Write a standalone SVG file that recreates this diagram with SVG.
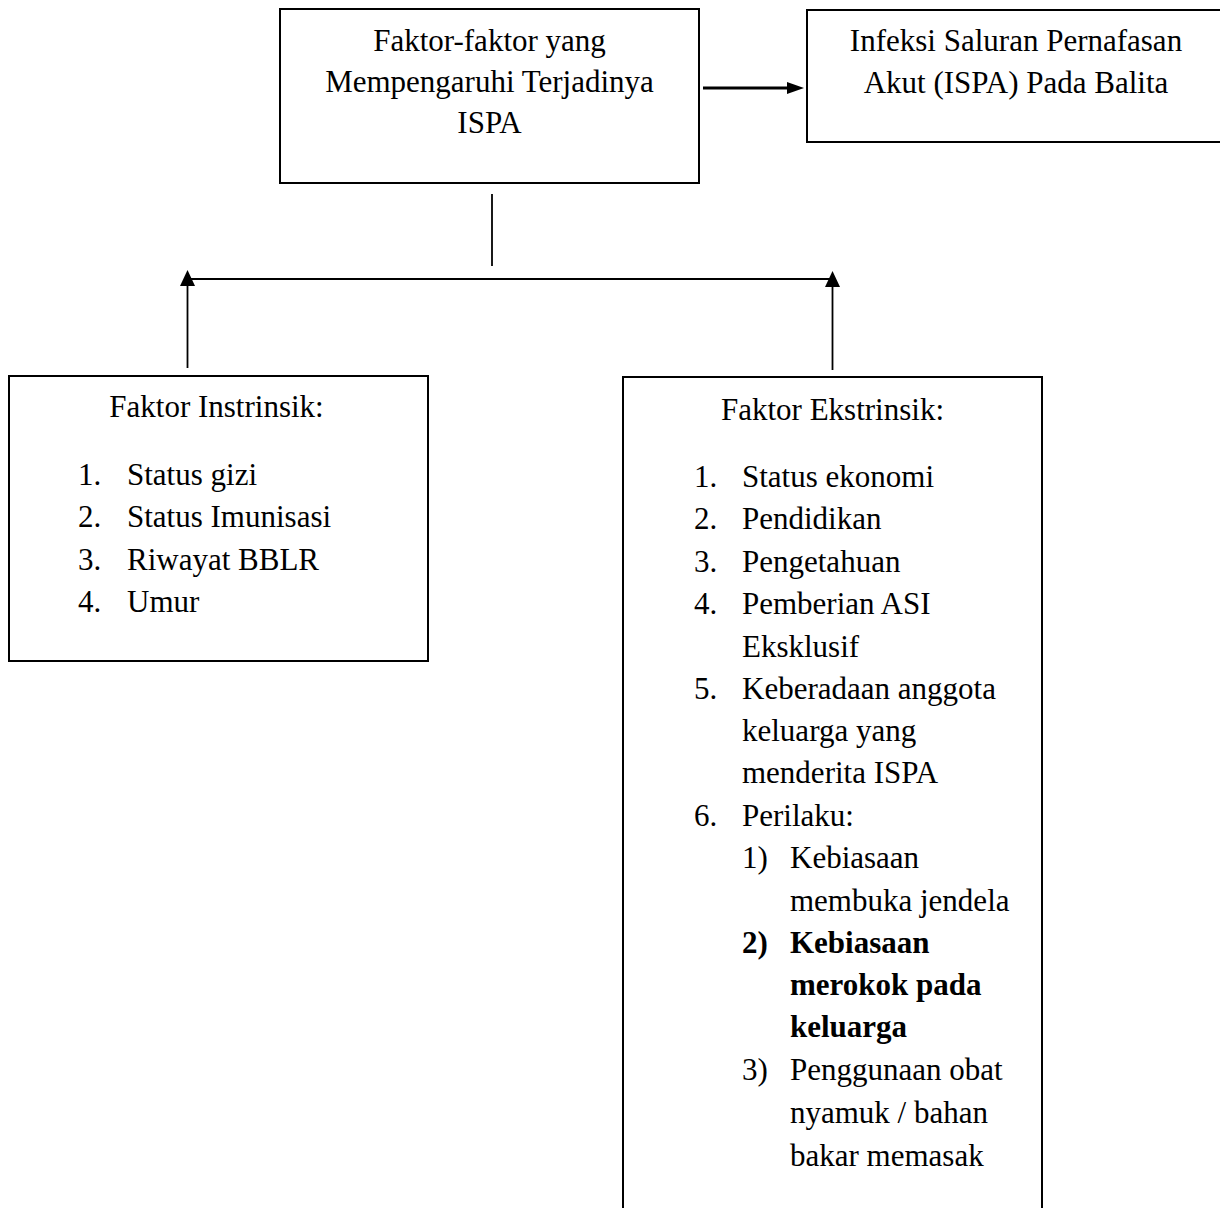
<svg xmlns="http://www.w3.org/2000/svg" width="1220" height="1208" viewBox="0 0 1220 1208">
<style>
.box{fill:#fff;stroke:#000;stroke-width:2}
.t{font-family:"Liberation Serif","Times New Roman",serif;font-size:31px;fill:#000}
.c{text-anchor:middle}
.b{font-weight:bold}
.ln{stroke:#000;stroke-width:1.8;fill:none}
.ah{fill:#000;stroke:none}
</style>
<rect width="1220" height="1208" fill="#fff"/>
<g id="node-faktor">
<rect class="box" x="280" y="9" width="419" height="174"/>
<text class="t c" x="489.5" y="51">Faktor-faktor yang</text>
<text class="t c" x="489.5" y="92">Mempengaruhi Terjadinya</text>
<text class="t c" x="489.5" y="133">ISPA</text>
</g>
<g id="node-ispa">
<rect class="box" x="807" y="10" width="420" height="132"/>
<text class="t c" x="1016" y="51">Infeksi Saluran Pernafasan</text>
<text class="t c" x="1016" y="93">Akut (ISPA) Pada Balita</text>
</g>
<g id="node-intrinsik">
<rect class="box" x="9" y="376" width="419" height="285"/>
<text class="t c" x="216.5" y="417">Faktor Instrinsik:</text>
<text class="t" x="78" y="485">1.</text><text class="t" x="127" y="485">Status gizi</text>
<text class="t" x="78" y="527">2.</text><text class="t" x="127" y="527">Status Imunisasi</text>
<text class="t" x="78" y="570">3.</text><text class="t" x="127" y="570">Riwayat BBLR</text>
<text class="t" x="78" y="612">4.</text><text class="t" x="127" y="612">Umur</text>
</g>
<g id="node-ekstrinsik">
<rect class="box" x="623" y="377" width="419" height="850"/>
<text class="t c" x="832.5" y="420">Faktor Ekstrinsik:</text>
<text class="t" x="694" y="487">1.</text><text class="t" x="742" y="487">Status ekonomi</text>
<text class="t" x="694" y="529">2.</text><text class="t" x="742" y="529">Pendidikan</text>
<text class="t" x="694" y="572">3.</text><text class="t" x="742" y="572">Pengetahuan</text>
<text class="t" x="694" y="614">4.</text><text class="t" x="742" y="614">Pemberian ASI</text>
<text class="t" x="742" y="657">Eksklusif</text>
<text class="t" x="694" y="699">5.</text><text class="t" x="742" y="699">Keberadaan anggota</text>
<text class="t" x="742" y="741">keluarga yang</text>
<text class="t" x="742" y="783">menderita ISPA</text>
<text class="t" x="694" y="826">6.</text><text class="t" x="742" y="826">Perilaku:</text>
<text class="t" x="742" y="868">1)</text><text class="t" x="790" y="868">Kebiasaan</text>
<text class="t" x="790" y="911">membuka jendela</text>
<text class="t b" x="742" y="953">2)</text><text class="t b" x="790" y="953">Kebiasaan</text>
<text class="t b" x="790" y="995">merokok pada</text>
<text class="t b" x="790" y="1037">keluarga</text>
<text class="t" x="742" y="1080">3)</text><text class="t" x="790" y="1080">Penggunaan obat</text>
<text class="t" x="790" y="1123">nyamuk / bahan</text>
<text class="t" x="790" y="1166">bakar memasak</text>
</g>
<g id="connectors">
<line class="ln" x1="703" y1="88" x2="790" y2="88" style="stroke-width:3"/>
<polygon class="ah" points="804,88 787,82 787,94"/>
<line class="ln" x1="492" y1="194" x2="492" y2="266"/>
<line class="ln" x1="187.5" y1="279" x2="833" y2="279"/>
<line class="ln" x1="187.5" y1="368" x2="187.5" y2="284"/>
<polygon class="ah" points="187.5,270 180,286 195,286"/>
<line class="ln" x1="832.5" y1="370" x2="832.5" y2="284"/>
<polygon class="ah" points="832.5,271 825,287 840,287"/>
</g>
</svg>
